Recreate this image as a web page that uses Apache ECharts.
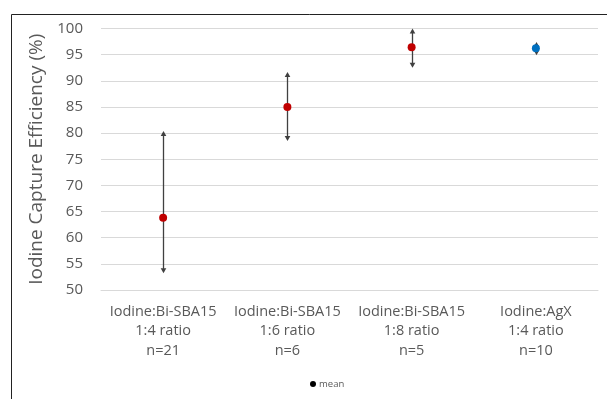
<!DOCTYPE html>
<html>
<head>
<meta charset="utf-8">
<script src="https://cdn.jsdelivr.net/npm/echarts@6/dist/echarts.min.js"></script>
<style>html,body{margin:0;padding:0;background:#fff}#c{width:607px;height:399px}</style>
</head>
<body>
<div id="c"></div>
<script>
const materials = ['Iodine:Bi-SBA15', 'Iodine:Bi-SBA15', 'Iodine:Bi-SBA15', 'Iodine:AgX'];
const ratios = ['1:4 ratio', '1:6 ratio', '1:8 ratio', '1:4 ratio'];
const counts = ['n=21', 'n=6', 'n=5', 'n=10'];
const means = [63.8, 85.0, 96.4, 96.2];
const lows = [53.2, 78.5, 92.5, 94.9];
const highs = [80.4, 91.7, 100.0, 97.4];
const pointColors = ['#C00000', '#C00000', '#C00000', '#0070C0'];
const yTicks = [50, 55, 60, 65, 70, 75, 80, 85, 90, 95, 100];

const categories = materials.map((m, i) => m + '\n' + ratios[i] + '\n' + counts[i]);
const errData = lows.map((l, i) => [i, l, highs[i]]);
const meanData = means.map((v, i) => ({ value: [i, v], itemStyle: { color: pointColors[i], opacity: 1 } }));

const chart = echarts.init(document.getElementById('c'), null, { renderer: 'canvas' });
chart.setOption({
  animation: false,
  backgroundColor: '#fff',
  textStyle: { fontFamily: 'Open Sans, sans-serif' },
  grid: { left: 101, right: 9, top: 28.5, bottom: 109 },
  graphic: [{
    type: 'rect', left: 9, top: 12, shape: { width: 700, height: 500 },
    style: { fill: 'none', stroke: '#222', lineWidth: 1 }, silent: true, z: 100
  }],
  legend: {
    top: 374, left: 305,
    data: [{ name: 'mean', icon: 'circle', itemStyle: { color: '#000', opacity: 1 } }],
    itemWidth: 6, itemHeight: 6, itemGap: 3,
    textStyle: { fontSize: 9.5, color: '#595959', fontFamily: 'Open Sans, sans-serif', padding: [0, 0, 0, -2] }
  },
  xAxis: {
    type: 'category', data: categories,
    axisLine: { lineStyle: { color: '#d9d9d9', width: 1 } },
    axisTick: { show: false },
    axisLabel: { color: '#595959', fontSize: 14.5, lineHeight: 19.5, margin: 12, interval: 0, fontFamily: 'Open Sans, sans-serif' }
  },
  yAxis: {
    type: 'value', min: 50, max: 100, interval: 5,
    name: 'Iodine Capture Efficiency (%)', nameLocation: 'middle', nameGap: 51, nameRotate: 90,
    nameTextStyle: { fontSize: 19, color: '#595959', fontFamily: 'Open Sans, sans-serif' },
    axisLine: { show: false }, axisTick: { show: false },
    axisLabel: { color: '#595959', fontSize: 15, margin: 18, fontFamily: 'Open Sans, sans-serif',
      formatter: v => (yTicks.indexOf(v) >= 0 ? String(v) : '') },
    splitLine: { lineStyle: { color: '#d9d9d9', width: 1 } }
  },
  series: [{
    type: 'custom', name: 'range', data: errData, z: 3,
    renderItem: function (params, api) {
      const x = api.value(0);
      const p1 = api.coord([x, api.value(1)]);
      const p2 = api.coord([x, api.value(2)]);
      const cx = Math.round(p1[0]) + 0.5;
      const c = '#404040';
      const ah = 5, aw = 2.8;
      return {
        type: 'group',
        children: [
          { type: 'line', shape: { x1: cx, y1: p2[1] + 2, x2: cx, y2: p1[1] - 2 }, style: { stroke: c, lineWidth: 1.3 } },
          { type: 'polygon', shape: { points: [[cx, p2[1]], [cx - aw, p2[1] + ah], [cx + aw, p2[1] + ah]] }, style: { fill: c } },
          { type: 'polygon', shape: { points: [[cx, p1[1]], [cx - aw, p1[1] - ah], [cx + aw, p1[1] - ah]] }, style: { fill: c } }
        ]
      };
    }
  }, {
    type: 'scatter', name: 'mean', data: meanData, symbol: 'circle', symbolSize: 8, z: 5,
    itemStyle: { opacity: 1 }
  }]
});
</script>
</body>
</html>
